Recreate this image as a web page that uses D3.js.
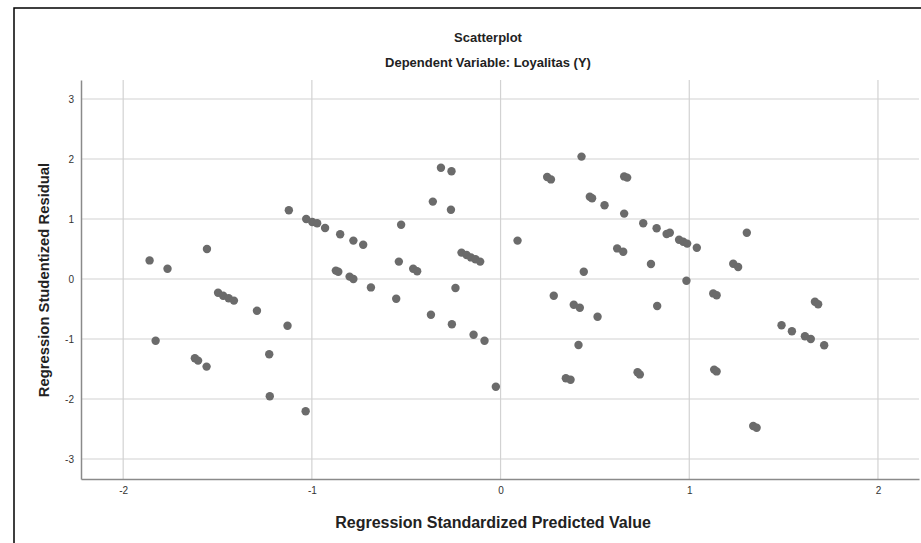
<!DOCTYPE html>
<html>
<head>
<meta charset="utf-8">
<script src="https://cdn.jsdelivr.net/npm/d3@7"></script>
<style>
  body { margin: 0; background: #fff; }
  svg { display: block; font-family: "Liberation Sans", Arial, sans-serif; }
</style>
</head>
<body>
<svg id="chart" width="921" height="543"></svg>
<script>
// Regression Standardized Predicted Value (x) and Studentized Residual (y)
const predicted = [
  -1.86, -1.765, -1.556, -1.122, -1.03, -0.998, -0.972, -0.93, -0.85, -0.78,
  -0.873, -0.86, -0.80, -0.78, -1.497, -1.47, -1.441, -1.413, -1.291, -1.129,
  -1.828, -1.62, -1.603, -1.558, -1.226, -1.223, -1.033, -0.728, -0.527, -0.687,
  -0.539, -0.463, -0.442, -0.316, -0.26, -0.359, -0.263, -0.207, -0.18, -0.157,
  -0.133, -0.108, -0.239, 0.09, 0.429, 0.247, 0.267, 0.473, 0.485, 0.441,
  -0.553, -0.369, -0.258, -0.143, -0.085, -0.025, 0.282, 0.388, 0.42, 0.514,
  0.413, 0.346, 0.371, 0.655, 0.671, 0.551, 0.655, 0.756, 0.827, 0.88,
  0.897, 0.946, 0.968, 0.989, 1.04, 1.305, 0.618, 0.65, 0.797, 1.233,
  1.259, 0.985, 1.127, 1.145, 0.83, 1.489, 1.544, 1.613, 1.644, 1.715,
  1.666, 1.683, 0.726, 0.738, 1.132, 1.145, 1.339, 1.357
];
const residual = [
  0.31, 0.17, 0.50, 1.145, 1.0, 0.95, 0.93, 0.85, 0.745, 0.64,
  0.14, 0.12, 0.04, 0.0, -0.23, -0.28, -0.32, -0.36, -0.53, -0.78,
  -1.03, -1.32, -1.36, -1.46, -1.255, -1.955, -2.205, 0.57, 0.905, -0.14,
  0.29, 0.17, 0.13, 1.855, 1.795, 1.29, 1.155, 0.44, 0.40, 0.36,
  0.33, 0.29, -0.15, 0.64, 2.04, 1.70, 1.66, 1.37, 1.345, 0.12,
  -0.33, -0.595, -0.755, -0.93, -1.03, -1.795, -0.28, -0.43, -0.48, -0.63,
  -1.10, -1.655, -1.68, 1.71, 1.69, 1.23, 1.09, 0.93, 0.845, 0.75,
  0.77, 0.655, 0.62, 0.59, 0.52, 0.77, 0.51, 0.455, 0.25, 0.255,
  0.20, -0.03, -0.24, -0.27, -0.45, -0.77, -0.87, -0.955, -1.0, -1.105,
  -0.38, -0.42, -1.555, -1.59, -1.51, -1.54, -2.45, -2.48
];
const xTicks = [-2, -1, 0, 1, 2];
const yTicks = [-3, -2, -1, 0, 1, 2, 3];

const chartTitle = "Scatterplot";
const chartSubtitle = "Dependent Variable: Loyalitas (Y)";
const xTitle = "Regression Standardized Predicted Value";
const yTitle = "Regression Studentized Residual";

const points = predicted.map((p, i) => ({ x: p, y: residual[i] }));

const svg = d3.select("#chart");
const plot = { left: 81, right: 919, top: 80, bottom: 479 };

// outer frame (only left and top edges visible in the crop)
svg.append("rect")
  .attr("x", 14).attr("y", 8)
  .attr("width", 940).attr("height", 560)
  .attr("fill", "#fff")
  .attr("stroke", "#000")
  .attr("stroke-width", 1.5);

const x = d3.scaleLinear()
  .domain([-2.2235, 2.2175])
  .range([plot.left, plot.right]);

const y = d3.scaleLinear()
  .domain([-3.333, 3.317])
  .range([plot.bottom, plot.top]);

// gridlines
svg.append("g")
  .selectAll("line")
  .data(xTicks)
  .join("line")
  .attr("x1", d => x(d)).attr("x2", d => x(d))
  .attr("y1", plot.top).attr("y2", plot.bottom)
  .attr("stroke", "#d2d2d2")
  .attr("stroke-width", 1.2);

svg.append("g")
  .selectAll("line")
  .data(yTicks)
  .join("line")
  .attr("x1", plot.left).attr("x2", plot.right)
  .attr("y1", d => y(d)).attr("y2", d => y(d))
  .attr("stroke", "#d2d2d2")
  .attr("stroke-width", 1.2);

// axes
const xAxis = svg.append("g")
  .attr("transform", `translate(0,${plot.bottom})`)
  .call(d3.axisBottom(x).tickValues(xTicks).tickSize(0).tickPadding(8).tickSizeOuter(0)
    .tickFormat(d3.format("d")));
const yAxis = svg.append("g")
  .attr("transform", `translate(${plot.left},0)`)
  .call(d3.axisLeft(y).tickValues(yTicks).tickSize(0).tickPadding(7).tickSizeOuter(0)
    .tickFormat(d3.format("d")));

[xAxis, yAxis].forEach(g => {
  g.select(".domain").attr("stroke", "#8a8a8a").attr("stroke-width", 1.5);
  g.selectAll("text")
    .attr("fill", "#333")
    .style("font-size", "10px")
    .style("font-family", "'Liberation Sans', Arial, sans-serif");
});
xAxis.selectAll("text").text(d => d < 0 ? "-" + Math.abs(d) : d);
yAxis.selectAll("text").text(d => d < 0 ? "-" + Math.abs(d) : d);

// points
svg.append("g")
  .selectAll("circle")
  .data(points)
  .join("circle")
  .attr("cx", d => x(d.x))
  .attr("cy", d => y(d.y))
  .attr("r", 4.2)
  .attr("fill", "#6b6b6b");

// titles
svg.append("text")
  .attr("x", 488).attr("y", 42)
  .attr("text-anchor", "middle")
  .attr("font-weight", "bold")
  .attr("font-size", 13)
  .attr("fill", "#222")
  .text(chartTitle);

svg.append("text")
  .attr("x", 488).attr("y", 67)
  .attr("text-anchor", "middle")
  .attr("font-weight", "bold")
  .attr("font-size", 13)
  .attr("fill", "#222")
  .text(chartSubtitle);

svg.append("text")
  .attr("x", 493).attr("y", 528)
  .attr("text-anchor", "middle")
  .attr("font-weight", "bold")
  .attr("font-size", 16)
  .attr("fill", "#222")
  .text(xTitle);

svg.append("text")
  .attr("transform", "translate(49,280) rotate(-90)")
  .attr("text-anchor", "middle")
  .attr("font-weight", "bold")
  .attr("font-size", 14.8)
  .attr("fill", "#222")
  .text(yTitle);
</script>
</body>
</html>
